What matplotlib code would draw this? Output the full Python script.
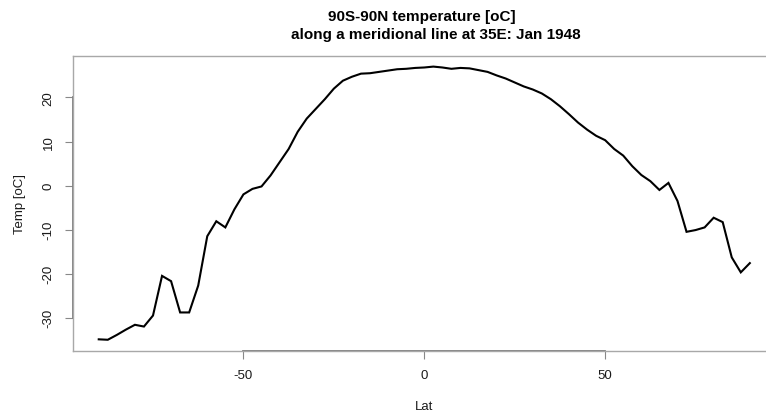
import matplotlib
matplotlib.use("Agg")
import matplotlib.pyplot as plt

# zonal profile at 35E, Jan 1948 (2.5 degree grid)
lat = [-90, -87.5, -85, -82.5, -80, -77.5, -75, -72.5, -70, -67.5,
       -65, -62.5, -60, -57.5, -55, -52.5, -50, -47.5, -45, -42.5,
       -40, -37.5, -35, -32.5, -30, -27.5, -25, -22.5, -20, -17.5,
       -15, -12.5, -10, -7.5, -5, -2.5, 0, 2.5, 5, 7.5,
       10, 12.5, 15, 17.5, 20, 22.5, 25, 27.5, 30, 32.5,
       35, 37.5, 40, 42.5, 45, 47.5, 50, 52.5, 55, 57.5,
       60, 62.5, 65, 67.5, 70, 72.5, 75, 77.5, 80, 82.5,
       85, 87.5, 90]
temp = [-34.9, -35.0, -33.9, -32.7, -31.6, -32.0, -29.5, -20.5, -21.7, -28.8,
        -28.8, -22.7, -11.5, -8.1, -9.5, -5.4, -2.0, -0.75, -0.2, 2.3,
        5.3, 8.3, 12.2, 15.2, 17.4, 19.6, 22.0, 23.8, 24.7, 25.4,
        25.5, 25.8, 26.1, 26.4, 26.5, 26.7, 26.8, 27.0, 26.8, 26.5,
        26.7, 26.6, 26.2, 25.8, 25.0, 24.3, 23.4, 22.5, 21.8, 20.9,
        19.6, 18.0, 16.2, 14.3, 12.7, 11.3, 10.3, 8.3, 6.8, 4.4,
        2.4, 1.0, -1.0, 0.6, -3.5, -10.5, -10.1, -9.5, -7.3, -8.3,
        -16.3, -19.7, -17.6]
xticks = [-50, 0, 50]
yticks = [-30, -20, -10, 0, 10, 20]

plt.rcParams["font.family"] = ["Liberation Sans", "DejaVu Sans"]
plt.rcParams["axes.unicode_minus"] = False

fig = plt.figure(figsize=(7.66, 4.14), dpi=100)
ax = fig.add_axes([0.0949, 0.1505, 0.918, 0.7126])

ax.plot(lat, temp, color="black", lw=1.5, solid_joinstyle="miter")

# R-style 4% padding around the data range
xr = max(lat) - min(lat)
yr = max(temp) - min(temp)
ax.set_xlim(min(lat) - 0.04 * xr, max(lat) + 0.04 * xr)
ax.set_ylim(min(temp) - 0.04 * yr, max(temp) + 0.04 * yr)

for s in ax.spines.values():
    s.set_color("#a8a8a8")
    s.set_linewidth(1.0)

ax.set_xticks(xticks)
ax.set_yticks(yticks)
ax.tick_params(colors="#888888", length=6, width=0.8, labelcolor="#1a1a1a",
               labelsize=9.5, pad=7)
plt.setp(ax.get_yticklabels(), rotation=90, va="center")

# axis lines spanning first to last tick
y0 = ax.get_ylim()[0]
x0 = ax.get_xlim()[0]
ax.plot([xticks[0], xticks[-1]], [y0, y0], color="#7a7a7a", lw=1.3, clip_on=False)
ax.plot([x0, x0], [yticks[0], yticks[-1]], color="#7a7a7a", lw=1.3, clip_on=False)

ax.set_xlabel("Lat", fontsize=9.5, color="#1a1a1a", labelpad=14)
ax.set_ylabel("Temp [oC]", fontsize=9.5, color="#1a1a1a", labelpad=12)

fig.text(422 / 766, 1 - 16.7 / 414, "90S-90N temperature [oC]", ha="center",
         va="center", fontsize=11, fontweight="bold")
fig.text(435.5 / 766, 1 - 35 / 414, "along a meridional line at 35E: Jan 1948",
         ha="center", va="center", fontsize=11, fontweight="bold")

fig.savefig("out.png", dpi=100)
